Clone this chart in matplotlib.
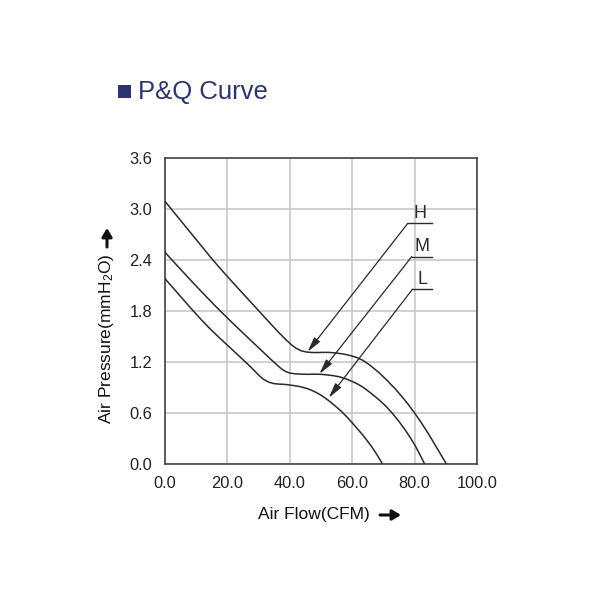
import matplotlib
matplotlib.use("Agg")
import matplotlib.pyplot as plt
from matplotlib.patches import Rectangle

plt.rcParams['font.family'] = ['Liberation Sans', 'DejaVu Sans']
plt.rcParams['mathtext.fontset'] = 'custom'
plt.rcParams['mathtext.rm'] = 'Liberation Sans'
plt.rcParams['mathtext.it'] = 'Liberation Sans'

# ---- data ----
h_x = [0, 2.5, 4.8, 7, 9, 11.5, 14.4, 17, 19.7, 22.5, 25, 27.5, 30.3, 32.5, 34.4, 36.5,
       38.7, 40.5, 42, 43.5, 45.2, 47, 48.5, 50.5, 52.7, 55, 57, 59, 61.3, 63.4, 65.6,
       68.6, 71, 73.9, 76, 78.1, 80, 81.7, 83.4, 85.1, 86.8, 88.5, 90.2]
h_y = [3.09, 2.978, 2.874, 2.775, 2.685, 2.573, 2.442, 2.33, 2.218, 2.105, 2.004, 1.904,
       1.792, 1.704, 1.628, 1.546, 1.464, 1.404, 1.362, 1.334, 1.318, 1.312, 1.311, 1.313,
       1.313, 1.305, 1.295, 1.28, 1.255, 1.22, 1.165, 1.075, 0.99, 0.88, 0.79, 0.695,
       0.60, 0.51, 0.415, 0.315, 0.21, 0.105, 0.0]

m_x = [0, 2.4, 4.8, 7, 9, 11.5, 14.4, 16.3, 18.1, 20.5, 22.9, 25.5, 28.2, 30.1, 32, 34,
       36.3, 37.5, 38.7, 40, 41.5, 43, 44.5, 46.2, 48, 49.5, 51.5, 53.8, 56, 58.1, 60.2,
       61.8, 63.4, 65.6, 68.6, 70.8, 72.8, 75, 77.1, 78.7, 80.2, 81.7, 83.2]
m_y = [2.49, 2.394, 2.298, 2.211, 2.132, 2.035, 1.924, 1.853, 1.787, 1.700, 1.615, 1.524,
       1.43, 1.364, 1.298, 1.229, 1.152, 1.115, 1.087, 1.07, 1.062, 1.058, 1.056, 1.055,
       1.057, 1.056, 1.05, 1.04, 1.025, 1.0, 0.968, 0.94, 0.905, 0.845, 0.755, 0.68,
       0.60, 0.50, 0.395, 0.305, 0.215, 0.11, 0.0]

l_x = [0, 1.8, 3.7, 6.3, 9, 11.7, 14.4, 17, 19.7, 21.5, 23.4, 25.5, 27.5, 29, 30.1, 31.5,
       33.3, 35, 36.6, 38.8, 40.9, 43, 45.2, 46.8, 48.4, 50, 51.6, 53, 54.8, 56.5, 58,
       59.5, 61.3, 63.4, 65, 66.5, 68.1, 69.7]
l_y = [2.18, 2.104, 2.025, 1.916, 1.803, 1.695, 1.592, 1.50, 1.408, 1.347, 1.282, 1.21,
       1.14, 1.085, 1.043, 0.998, 0.962, 0.945, 0.94, 0.935, 0.925, 0.912, 0.892, 0.87,
       0.843, 0.81, 0.77, 0.73, 0.675, 0.62, 0.565, 0.505, 0.43, 0.34, 0.265, 0.19,
       0.10, 0.0]

labels = ['H', 'M', 'L']
label_start_x = [77.8, 79.1, 79.3]
label_end_x = [85.7, 85.7, 85.7]
label_line_y = [2.83, 2.44, 2.055]
tip_x = [45.7, 49.5, 52.5]
tip_y = [1.32, 1.06, 0.78]

x_ticks = [0, 20, 40, 60, 80, 100]
x_tick_labels = ['0.0', '20.0', '40.0', '60.0', '80.0', '100.0']
y_ticks = [0.0, 0.6, 1.2, 1.8, 2.4, 3.0, 3.6]
y_tick_labels = ['0.0', '0.6', '1.2', '1.8', '2.4', '3.0', '3.6']

title = 'P&Q Curve'
xlabel = 'Air Flow(CFM)'
ylabel = r'Air Pressure(mmH$_2$O)'

# ---- figure ----
fig = plt.figure(figsize=(6, 6), dpi=100)
ax = fig.add_axes([165/600, 1-464/600, 312/600, 306/600])

line_color = '#2a2a2a'
for xs, ys in [(h_x, h_y), (m_x, m_y), (l_x, l_y)]:
    ax.plot(xs, ys, color=line_color, lw=1.1, zorder=3, solid_joinstyle='round')

for lab, sx, ex, ly, tx, ty in zip(labels, label_start_x, label_end_x, label_line_y, tip_x, tip_y):
    ax.plot([sx, ex], [ly, ly], color=line_color, lw=1.0, zorder=3)
    ax.annotate('', xy=(tx, ty), xytext=(sx, ly),
                arrowprops=dict(arrowstyle='-|>,head_length=0.9,head_width=0.22',
                                color=line_color, lw=0.9, shrinkA=0, shrinkB=0),
                zorder=4)
    ax.text((sx + ex) / 2, ly + 0.02, lab, ha='center', va='bottom',
            fontsize=13, color=line_color)

ax.set_xlim(0, 100)
ax.set_ylim(0, 3.6)
ax.set_xticks(x_ticks)
ax.set_xticklabels(x_tick_labels)
ax.set_yticks(y_ticks)
ax.set_yticklabels(y_tick_labels)
ax.tick_params(length=0, labelsize=11.8, colors='#222222')
ax.tick_params(axis='x', pad=9)
ax.tick_params(axis='y', pad=9)
ax.grid(True, color='#c4c4c4', lw=1.1)
ax.set_axisbelow(True)
for s in ax.spines.values():
    s.set_color('#444444')
    s.set_linewidth(1.2)

# axis labels with arrows
fig.text(314/600, 1-514/600, xlabel, ha='center', va='center', fontsize=12.5, color='#111111')
fig.text(106/600, 1-339/600, ylabel, ha='center', va='center', rotation=90,
         fontsize=12.5, color='#111111')
ax.annotate('', xy=(401/600, 1-515/600), xytext=(380/600, 1-515/600),
            xycoords='figure fraction', textcoords='figure fraction',
            arrowprops=dict(arrowstyle='-|>,head_length=0.5,head_width=0.3',
                            color='#111111', lw=2.2, shrinkA=0, shrinkB=0),
            annotation_clip=False)
ax.annotate('', xy=(107/600, 1-228/600), xytext=(107/600, 1-247/600),
            xycoords='figure fraction', textcoords='figure fraction',
            arrowprops=dict(arrowstyle='-|>,head_length=0.5,head_width=0.3',
                            color='#111111', lw=2.2, shrinkA=0, shrinkB=0),
            annotation_clip=False)

# title with square marker
title_color = '#2e3372'
fig.patches.append(Rectangle((118/600, 1-98/600), 13/600, 13/600,
                             transform=fig.transFigure, facecolor=title_color,
                             edgecolor='none'))
fig.text(138/600, 1-92/600, title, ha='left', va='center', fontsize=18.5, color=title_color)

fig.savefig('out.png', dpi=100, facecolor='white')
